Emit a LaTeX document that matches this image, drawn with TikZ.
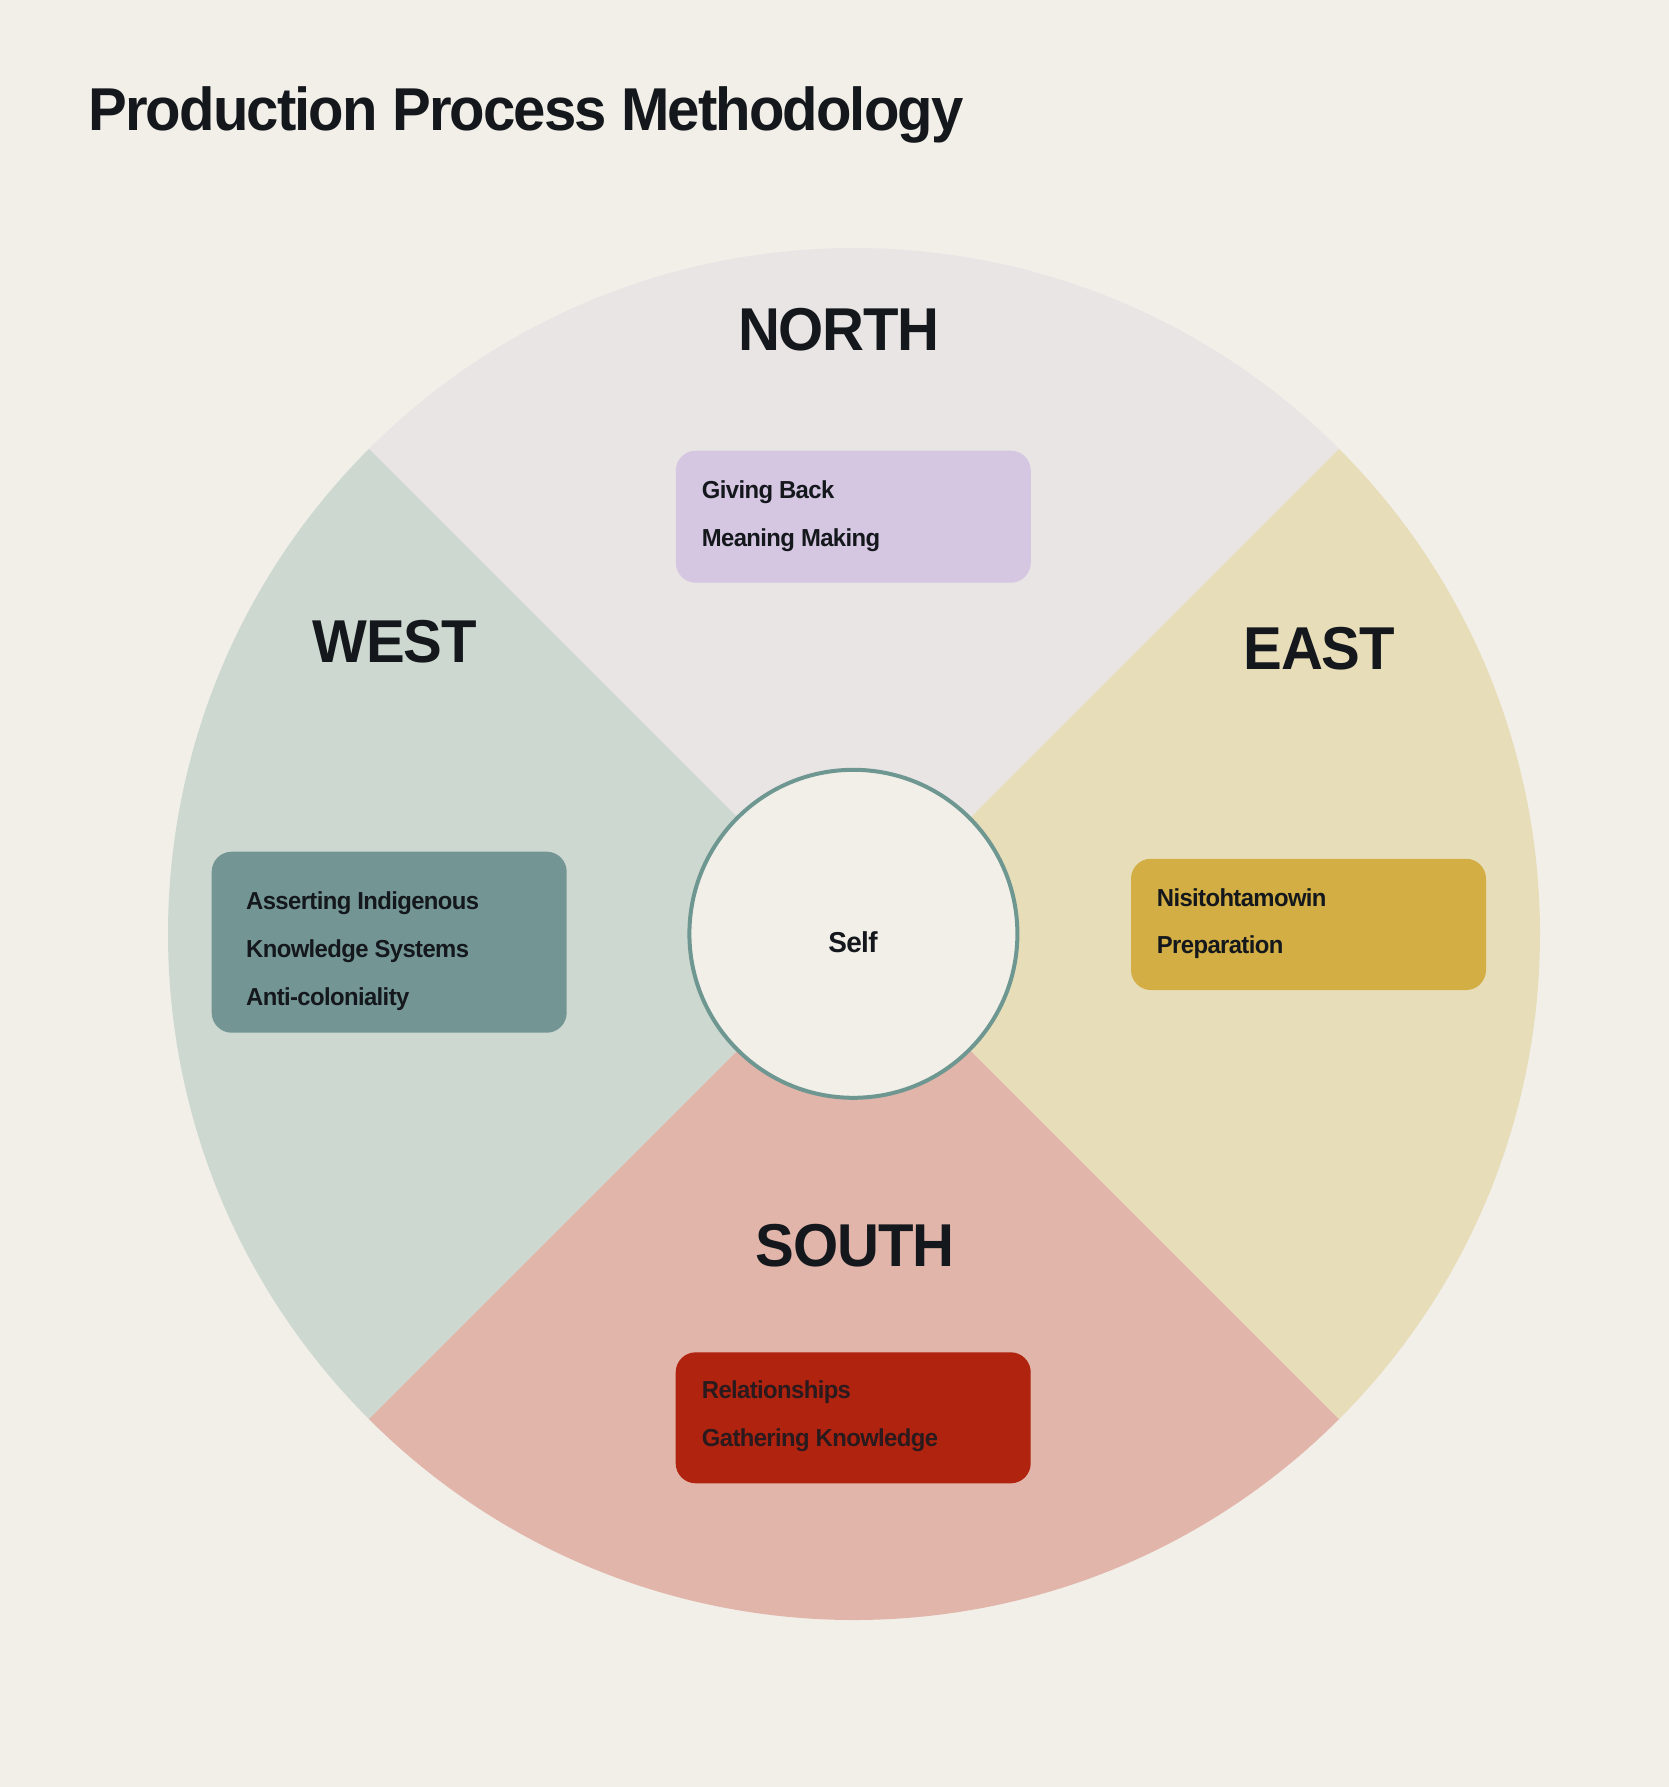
\documentclass[tikz,border=0pt]{standalone}
\usepackage{fontspec}
\setmainfont{Liberation Sans}
\newfontfamily\hfont{Liberation Sans}[FakeStretch=0.96,LetterSpace=-3.1]
\newfontfamily\dfont{Liberation Sans}[FakeStretch=0.96,LetterSpace=-2.0]
\newfontfamily\ifont{Liberation Sans}[FakeStretch=0.97,LetterSpace=-2.5]
\definecolor{bgc}{HTML}{F2EFE9}
\definecolor{northc}{HTML}{E9E5E5}
\definecolor{eastc}{HTML}{E7DDB9}
\definecolor{southc}{HTML}{E1B5AA}
\definecolor{westc}{HTML}{CDD8D0}
\definecolor{northbox}{HTML}{D5C6E2}
\definecolor{westbox}{HTML}{739695}
\definecolor{eastbox}{HTML}{D2AE44}
\definecolor{southbox}{HTML}{B0230E}
\definecolor{ringc}{HTML}{6F9791}
\definecolor{inkc}{HTML}{14181C}
\definecolor{inkred}{HTML}{2A1A1E}
\begin{document}
\begin{tikzpicture}[x=1pt,y=1pt,
  titletext/.style={anchor=base west,inner sep=0pt,text=inkc,font=\hfont\bfseries\fontsize{60.5}{70}\selectfont},
  dirtext/.style={anchor=base,inner sep=0pt,text=inkc,font=\dfont\bfseries\fontsize{60.5}{70}\selectfont},
  itemtext/.style={anchor=base west,inner sep=0pt,text=inkc,font=\ifont\bfseries\fontsize{24.6}{29}\selectfont},
  itembox/.style={rounded corners=20pt,inner sep=0pt,draw=none,minimum width=355pt},
]
\useasboundingbox (0,0) rectangle (1669,-1787);
\fill[bgc] (0,0) rectangle (1669,-1787);

\coordinate (c) at (854,-934);
% sectors
\fill[northc] (c) -- ++(45:686) arc[start angle=45,end angle=135,radius=686] -- cycle;
\fill[westc]  (c) -- ++(135:686) arc[start angle=135,end angle=225,radius=686] -- cycle;
\fill[southc] (c) -- ++(225:686) arc[start angle=225,end angle=315,radius=686] -- cycle;
\fill[eastc]  (c) -- ++(315:686) arc[start angle=315,end angle=405,radius=686] -- cycle;

% title
\node[titletext] (title) at (88,-130.7) {Production Process Methodology};

% direction labels
\node[dirtext] (north) at (839,-350) {NORTH};
\node[dirtext] (west) at (394.5,-662.7) {WEST};
\node[dirtext] (east) at (1319.2,-669.3) {EAST};
\node[dirtext] (south) at (855.2,-1266) {SOUTH};

% boxes
\node[itembox,fill=northbox,minimum height=132pt] (nbox) at (853.3,-516.7) {};
\node[itembox,fill=westbox,minimum height=181pt] (wbox) at (389.2,-942.2) {};
\node[itembox,fill=eastbox,minimum height=131.3pt] (ebox) at (1308.5,-924.4) {};
\node[itembox,fill=southbox,minimum height=131pt] (sbox) at (853.2,-1417.8) {};

\node[itemtext] (n1) at (701.7,-498.3) {Giving Back};
\node[itemtext] (n2) at (701.7,-546.7) {Meaning Making};

\node[itemtext] (w1) at (246,-909.3) {Asserting Indigenous};
\node[itemtext] (w2) at (246,-957.3) {Knowledge Systems};
\node[itemtext] (w3) at (246,-1005) {Anti-coloniality};

\node[itemtext] (e1) at (1156.7,-906) {Nisitohtamowin};
\node[itemtext] (e2) at (1156.7,-953.3) {Preparation};

\node[itemtext,text=inkred] (s1) at (701.7,-1398.3) {Relationships};
\node[itemtext,text=inkred] (s2) at (701.7,-1446.7) {Gathering Knowledge};

% centre
\node[circle,fill=bgc,draw=ringc,line width=4pt,minimum size=328pt,inner sep=0pt] (self) at (853.4,-933.8) {};
\node[anchor=base,inner sep=0pt,text=inkc,font=\ifont\bfseries\fontsize{28.8}{34}\selectfont] (selft) at (853,-952.3) {Self};
\end{tikzpicture}
\end{document}
